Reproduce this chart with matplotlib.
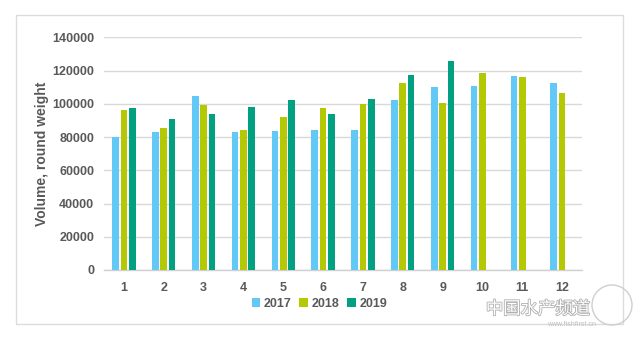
import numpy as np
import matplotlib.pyplot as plt
from matplotlib import patheffects
from matplotlib.patches import Rectangle, Ellipse

plt.rcParams["font.family"] = ["Liberation Sans", "DejaVu Sans"]

# data
months = [str(m) for m in range(1, 13)]
years = ["2017", "2018", "2019"]
vol_2017 = [80000, 83000, 104500, 82800, 83700, 84500, 84500, 102000, 110000, 111000, 116700, 112700]
vol_2018 = [96000, 85300, 99000, 84500, 92000, 97300, 99900, 112700, 100500, 118300, 116000, 106300]
vol_2019 = [97300, 91000, 94000, 98300, 102000, 94000, 103000, 117500, 125500, None, None, None]
colors = ["#62C9F7", "#B4C804", "#00A080"]

grey = "#595959"

fig = plt.figure(figsize=(6.42, 3.38), dpi=100)
ax = fig.add_axes([0.162, 0.2012, 0.7445, 0.6884])

x = np.arange(len(months))
step = 0.21
width = 0.168
for k, (vals, col, lab) in enumerate(zip([vol_2017, vol_2018, vol_2019], colors, years)):
    xs = [xi + (k - 1) * step for xi, v in zip(x, vals) if v is not None]
    ys = [v for v in vals if v is not None]
    ax.bar(xs, ys, width=width, color=col, label=lab, zorder=3)

ax.set_xlim(-0.5, len(months) - 0.5)
ax.set_ylim(0, 140000)
ax.set_yticks(np.arange(0, 140001, 20000))
ax.set_xticks(x)
ax.set_xticklabels(months)
ax.grid(axis="y", color="#d9d9d9", linewidth=1.0, zorder=0)
for s in ["top", "right", "left"]:
    ax.spines[s].set_visible(False)
ax.spines["bottom"].set_color("#d0d0d0")
ax.spines["bottom"].set_linewidth(1.0)
ax.tick_params(axis="both", length=0, colors=grey, labelsize=9)
ax.tick_params(axis="y", pad=7)
ax.tick_params(axis="x", pad=9)
for t in ax.get_xticklabels() + ax.get_yticklabels():
    t.set_fontweight("bold")
ax.set_ylabel("Volume, round weight", color=grey, fontsize=10, fontweight="bold", labelpad=2)

leg = fig.legend(loc="center", bbox_to_anchor=(319.5 / 642, 1 - 304 / 338), ncol=3,
                 frameon=False, handlelength=0.7, handleheight=0.7, handletextpad=0.3,
                 columnspacing=0.6, prop={"weight": "bold", "size": 9})
for t in leg.get_texts():
    t.set_color(grey)

# outer frame
fig.patches.append(Rectangle((16 / 642, 1 - 324 / 338), (623 - 16) / 642, (324 - 15) / 338,
                             transform=fig.transFigure, fill=False, edgecolor="#dcdcdc",
                             linewidth=1.0))

# watermark
wm = fig.text(538 / 642, 1 - 309 / 338, "中国水产频道", ha="center", va="center",
              fontsize=12.5, color="white",
              family=["Noto Sans CJK SC", "DejaVu Sans"])
wm.set_path_effects([patheffects.withStroke(linewidth=1.2, foreground="#b0b0b0")])
fig.text(572 / 642, 1 - 324 / 338, "www.fishfirst.cn", ha="center", va="center",
         fontsize=5, color="#c0c0c0")
fig.patches.append(Ellipse((612 / 642, 1 - 305 / 338), 40 / 642, 40 / 338,
                           transform=fig.transFigure, fill=False, edgecolor="#cfcfcf",
                           linewidth=1.0))

fig.savefig("out.png", dpi=100, facecolor="white")
